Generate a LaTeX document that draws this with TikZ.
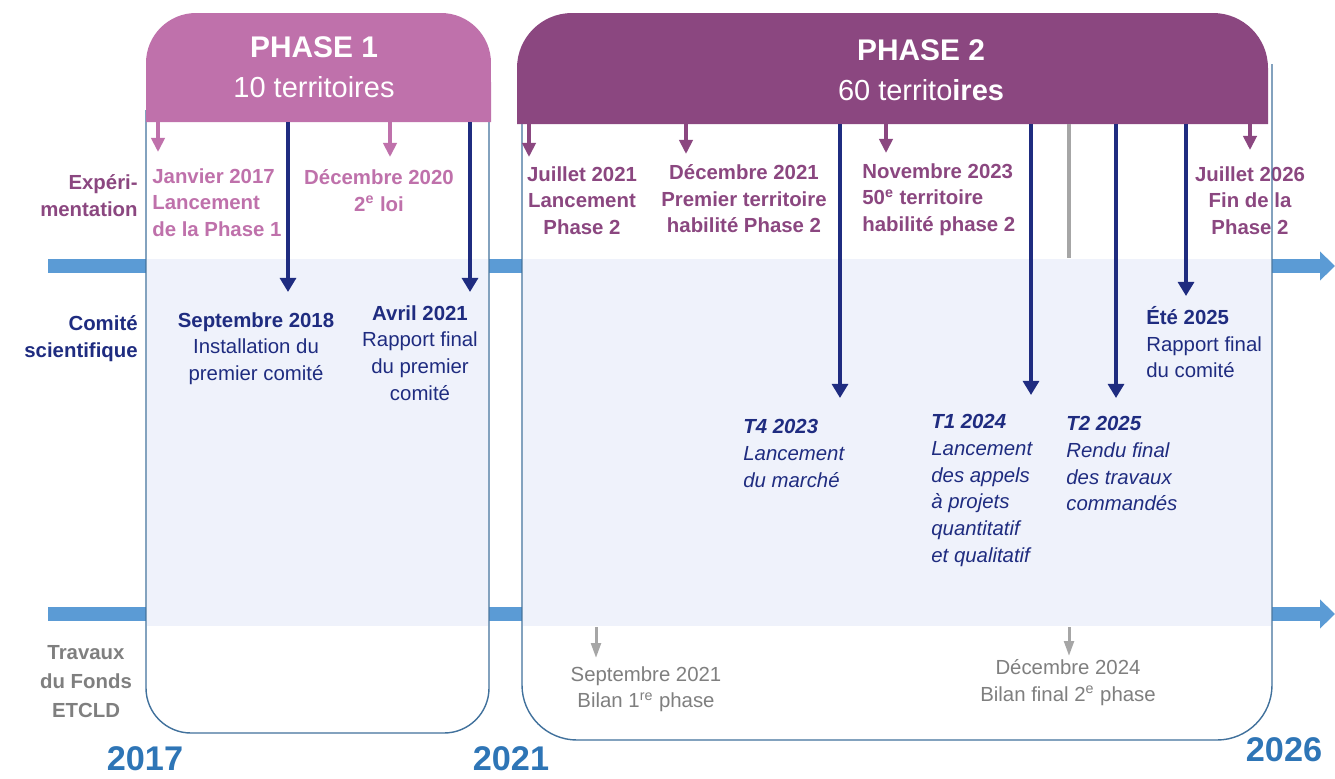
\documentclass[tikz,border=0pt]{standalone}
\usepackage{fontspec}
\setmainfont{Liberation Sans}
\usepackage{tikz}
\usetikzlibrary{positioning,calc,arrows.meta}

\definecolor{rose}{HTML}{BF71AB}
\definecolor{prune}{HTML}{8B4780}
\definecolor{marine}{HTML}{1F2C80}
\definecolor{ciel}{HTML}{5B9BD5}
\definecolor{azur}{HTML}{2E75B6}
\definecolor{gris}{HTML}{7F7F7F}
\definecolor{grisclair}{HTML}{A6A6A6}
\definecolor{bande}{HTML}{EFF2FB}
\definecolor{cadre}{HTML}{41719C}

\newcommand{\corps}{\fontsize{11.6}{15.2}\selectfont}

\tikzset{
	lbl/.style={inner sep=0pt, font=\corps, execute at begin node=\strut},
	rowlbl/.style={lbl, font=\corps\bfseries, align=right, anchor=north east},
	expun/.style={lbl, font=\corps\bfseries, text=rose},
	expdeux/.style={lbl, font=\corps\bfseries, text=prune},
	comite/.style={lbl, text=marine},
	marche/.style={lbl, font=\corps\itshape, text=marine, align=left, anchor=north west},
	fonds/.style={lbl, text=gris, align=center, anchor=north},
	titre/.style={inner sep=0pt, text=white, font=\fontsize{16.5}{20}\selectfont},
	annee/.style={inner sep=0pt, text=azur, font=\fontsize{19.5}{23}\selectfont\bfseries},
	axe/.style={ciel, line width=7.5pt, -{Triangle[width=16pt,length=8.5pt]}},
	flrose/.style={rose, line width=2.3pt, -{Triangle[width=7.5pt,length=8pt]}},
	flprune/.style={prune, line width=2.3pt, -{Triangle[width=7.5pt,length=8pt]}},
	flmarine/.style={marine, line width=2.8pt, -{Triangle[width=9pt,length=8pt]}},
	flgris/.style={grisclair, line width=1.7pt, -{Triangle[width=5.5pt,length=8.5pt]}},
	boite/.style={cadre, line width=0.8pt},
}

\begin{document}
\begin{tikzpicture}[x=0.02cm,y=-0.02cm]
	\useasboundingbox (0,0) rectangle (1335,778);

	\coordinate (axe1a) at (48,266);
	\coordinate (axe1b) at (1335,266);
	\coordinate (axe2a) at (48,614);
	\coordinate (axe2b) at (1335,614);
	\draw[axe] (axe1a) -- (axe1b);
	\draw[axe] (axe2a) -- (axe2b);

	\fill[white, rounded corners=0.9cm] (146,13) rectangle (489,733);
	\fill[white, rounded corners=1.1cm] (522,13) rectangle (1272,740);
	\fill[bande] (147,259) rectangle (488,626);
	\fill[bande] (523,259) rectangle (1271,626);

	\node[rowlbl, text=prune] (lexp) at (138,174) {Expéri-\\mentation};
	\node[rowlbl, text=marine] (lcom) at (138,315) {Comité\\scientifique};
	\node[rowlbl, text=gris, align=center, anchor=north, font=\fontsize{11.6}{16.4}\selectfont\bfseries] (ltrav) at (86,645) {Travaux\\du Fonds\\ETCLD};

	\node[expun, align=left, anchor=north west] (janv17) at (152,168) {Janvier 2017\\Lancement\\de la Phase 1};
	\node[expun, align=center, anchor=north] (dec20) at (379,169) {Décembre 2020\\2\textsuperscript{e} loi};
	\node[expdeux, align=center, anchor=north] (juil21) at (582,166) {Juillet 2021\\Lancement\\Phase 2};
	\node[expdeux, align=center, anchor=north] (dec21) at (744,164) {Décembre 2021\\Premier territoire\\habilité Phase 2};
	\node[expdeux, align=left, anchor=north west] (nov23) at (862,163) {Novembre 2023\\50\textsuperscript{e} territoire\\habilité phase 2};
	\node[expdeux, align=center, anchor=north] (juil26) at (1250,166) {Juillet 2026\\Fin de la\\Phase 2};

	\node[comite, align=center, anchor=north] (sept18) at (256,312) {\textbf{Septembre 2018}\\Installation du\\premier comité};
	\node[comite, align=center, anchor=north] (avr21) at (420,305) {\textbf{Avril 2021}\\Rapport final\\du premier\\comité};
	\node[comite, align=left, anchor=north west] (ete25) at (1146,306) {\textbf{Été 2025}\\Rapport final\\du comité};
	\node[marche] (t423) at (743,419) {\textbf{T4 2023}\\Lancement\\du marché};
	\node[marche] (t124) at (931,414) {\textbf{T1 2024}\\Lancement\\des appels\\à projets\\quantitatif\\et qualitatif};
	\node[marche] (t225) at (1066,416) {\textbf{T2 2025}\\Rendu final\\des travaux\\commandés};

	\node[fonds] (sept21) at (646,666) {Septembre 2021\\Bilan 1\textsuperscript{re} phase};
	\node[fonds] (dec24) at (1068,659) {Décembre 2024\\Bilan final 2\textsuperscript{e} phase};

	\draw[boite, rounded corners=0.9cm] (146,110) -- (146,733) -- (489,733) -- (489,110);
	\draw[boite, rounded corners=1.1cm] (522,110) -- (522,740) -- (1272,740) -- (1272,64);

	\fill[rose] (146,122) -- (146,63) arc[start angle=180,end angle=90,radius=1cm] -- (441,13) arc[start angle=90,end angle=0,radius=1cm] -- (491,122) -- cycle;
	\fill[prune] (517,124) -- (517,68) arc[start angle=180,end angle=90,radius=1.1cm] -- (1213,13) arc[start angle=90,end angle=0,radius=1.1cm] -- (1268,124) -- cycle;

	\node[titre, font=\fontsize{17}{20}\selectfont\bfseries] (ph1) at (314,47) {PHASE 1};
	\node[titre] (ter1) at (314,87) {10 territoires};
	\node[titre, font=\fontsize{17}{20}\selectfont\bfseries] (ph2) at (921,50) {PHASE 2};
	\node[titre] (ter2) at (921,90) {60 territo\textbf{ires}};

	\coordinate (janv17s) at (158,122);
	\coordinate (janv17e) at (158,152);
	\coordinate (dec20s) at (390,122);
	\coordinate (dec20e) at (390,157);
	\coordinate (juil21s) at (529,124);
	\coordinate (juil21e) at (529,157);
	\coordinate (dec21s) at (686,124);
	\coordinate (dec21e) at (686,154);
	\coordinate (nov23s) at (886,124);
	\coordinate (nov23e) at (886,153);
	\coordinate (juil26s) at (1250,124);
	\coordinate (juil26e) at (1250,150);

	\coordinate (sept18s) at (288,122);
	\coordinate (sept18e) at (288,292);
	\coordinate (avr21s) at (470,122);
	\coordinate (avr21e) at (470,292);
	\coordinate (t423s) at (840,124);
	\coordinate (t423e) at (840,398);
	\coordinate (t124s) at (1031,124);
	\coordinate (t124e) at (1031,395);
	\coordinate (t225s) at (1116,124);
	\coordinate (t225e) at (1116,398);
	\coordinate (ete25s) at (1186,124);
	\coordinate (ete25e) at (1186,296);

	\coordinate (dec24s) at (1069,124);
	\coordinate (dec24m) at (1069,258);
	\coordinate (dec24a) at (1069,627);
	\coordinate (dec24e) at (1069,656);
	\coordinate (sept21s) at (596,627);
	\coordinate (sept21e) at (596,658);

	\draw[flrose] (janv17s) -- (janv17e);
	\draw[flrose] (dec20s) -- (dec20e);
	\draw[flprune] (juil21s) -- (juil21e);
	\draw[flprune] (dec21s) -- (dec21e);
	\draw[flprune] (nov23s) -- (nov23e);
	\draw[flprune] (juil26s) -- (juil26e);

	\draw[flmarine] (sept18s) -- (sept18e);
	\draw[flmarine] (avr21s) -- (avr21e);
	\draw[flmarine] (t423s) -- (t423e);
	\draw[flmarine] (t124s) -- (t124e);
	\draw[flmarine] (t225s) -- (t225e);
	\draw[flmarine] (ete25s) -- (ete25e);

	\draw[grisclair, line width=2.5pt] (dec24s) -- (dec24m);
	\draw[flgris] (dec24a) -- (dec24e);
	\draw[flgris] (sept21s) -- (sept21e);

	\node[annee] (y17) at (145,759) {2017};
	\node[annee] (y21) at (511,759) {2021};
	\node[annee] (y26) at (1284,750) {2026};
\end{tikzpicture}
\end{document}
